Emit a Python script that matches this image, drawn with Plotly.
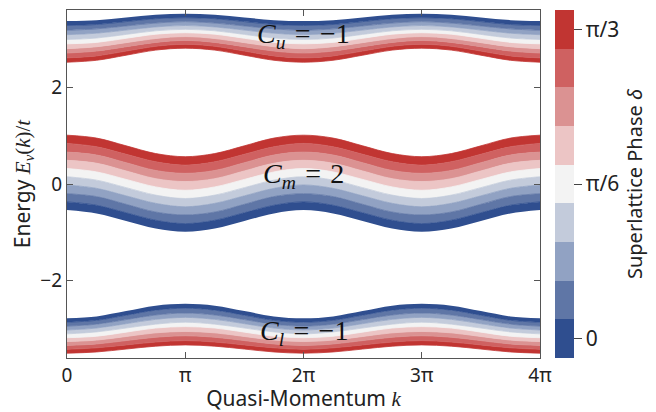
import math
import plotly.graph_objects as go

PI = math.pi

# k positions (one half period) where the stripe boundaries were read
k_read = [0, PI / 4, PI / 2, 3 * PI / 4, PI]

# Stripe boundaries (energy / t) read at k = 0, π/4, π/2, 3π/4, π
# index 0 = blue edge (δ = 0 side), index 9 = red edge (δ = π/3 side)
upper_bounds = [
    [3.37, 3.39, 3.445, 3.50, 3.52],
    [3.28, 3.30, 3.36, 3.42, 3.44],
    [3.18, 3.21, 3.27, 3.33, 3.36],
    [3.09, 3.12, 3.185, 3.25, 3.28],
    [2.99, 3.02, 3.095, 3.17, 3.20],
    [2.90, 2.93, 3.015, 3.10, 3.13],
    [2.80, 2.84, 2.925, 3.01, 3.05],
    [2.71, 2.75, 2.84, 2.93, 2.97],
    [2.61, 2.65, 2.75, 2.85, 2.89],
    [2.52, 2.56, 2.665, 2.77, 2.81],
]
middle_bounds = [
    [-0.54, -0.61, -0.765, -0.92, -0.99],
    [-0.37, -0.44, -0.595, -0.75, -0.82],
    [-0.20, -0.26, -0.42, -0.58, -0.64],
    [-0.02, -0.09, -0.245, -0.40, -0.47],
    [0.15, 0.08, -0.075, -0.23, -0.30],
    [0.32, 0.25, 0.095, -0.06, -0.13],
    [0.49, 0.43, 0.27, 0.11, 0.05],
    [0.66, 0.60, 0.44, 0.28, 0.22],
    [0.84, 0.77, 0.615, 0.46, 0.39],
    [1.01, 0.95, 0.79, 0.63, 0.565],
]
lower_bounds = [
    [-2.78, -2.74, -2.63, -2.52, -2.48],
    [-2.86, -2.82, -2.715, -2.61, -2.57],
    [-2.94, -2.90, -2.805, -2.71, -2.67],
    [-3.02, -2.98, -2.89, -2.80, -2.76],
    [-3.10, -3.06, -2.98, -2.90, -2.86],
    [-3.18, -3.15, -3.065, -2.98, -2.95],
    [-3.26, -3.23, -3.155, -3.08, -3.05],
    [-3.34, -3.31, -3.24, -3.17, -3.14],
    [-3.42, -3.39, -3.33, -3.27, -3.24],
    [-3.50, -3.475, -3.415, -3.355, -3.33],
]

# superlattice phases (colour bins) and their colours
delta_values = [i * PI / 24 for i in range(9)]
delta_colors = ["#2f4e8f", "#5f76a6", "#91a2c3", "#c3cbdb", "#f3f3f3",
                "#ecc5c5", "#db9292", "#cf6161", "#c13532"]

x_tickvals = [0, PI, 2 * PI, 3 * PI, 4 * PI]
x_ticktext = ["0", "π", "2π", "3π", "4π"]
y_tickvals = [-2, 0, 2]
y_ticktext = ["\u22122", "0", "2"]
cb_tickvals = [0, PI / 6, PI / 3]
cb_ticktext = ["0", "π/6", "π/3"]

chern_labels = [
    ("<i>C</i><sub><i>u</i></sub>\u200a = \u200a\u22121", 3.08),
    ("<i>C</i><sub><i>m</i></sub>\u200a = \u200a2", 0.17),
    ("<i>C</i><sub><i>l</i></sub>\u200a = \u200a\u22121", -3.08),
]

# full k grid 0..4π (the bands are periodic with 2π and symmetric about π)
k_full = [i * PI / 4 for i in range(17)]


def unfold(half):
    period = list(half) + list(half[-2::-1])
    return period + period[1:]


fig = go.Figure()
for bounds in (upper_bounds, middle_bounds, lower_bounds):
    fig.add_trace(go.Scatter(x=k_full, y=unfold(bounds[0]), mode="lines",
                             line=dict(width=0, shape="spline", color=delta_colors[0]),
                             hoverinfo="skip", showlegend=False))
    for i in range(9):
        fig.add_trace(go.Scatter(x=k_full, y=unfold(bounds[i + 1]), mode="lines",
                                 fill="tonexty", fillcolor=delta_colors[i],
                                 line=dict(width=0.8, shape="spline", color=delta_colors[i]),
                                 hoverinfo="skip", showlegend=False))

# colour bar
n = len(delta_colors)
cscale = []
for i, c in enumerate(delta_colors):
    cscale.append([i / n, c])
    cscale.append([(i + 1) / n, c])
step = delta_values[1] - delta_values[0]
fig.add_trace(go.Scatter(
    x=[None], y=[None], mode="markers", showlegend=False,
    marker=dict(color=[delta_values[0]], colorscale=cscale,
                cmin=delta_values[0] - step / 2, cmax=delta_values[-1] + step / 2,
                showscale=True,
                colorbar=dict(x=1.0317, xanchor="left", xpad=0, y=0.5, yanchor="middle",
                              len=1.0, lenmode="fraction", ypad=0, thickness=19,
                              outlinewidth=0, tickvals=cb_tickvals, ticktext=cb_ticktext,
                              ticks="outside", ticklen=8, tickcolor="#444", tickwidth=1,
                              tickfont=dict(family="Noto Sans", size=21, color="#222"),
                              title=dict(text="Superlattice Phase <i>δ</i>", side="right",
                                         font=dict(family="Noto Sans", size=20, color="#222"))))))

serif = "Liberation Serif"
for text, yv in chern_labels:
    fig.add_annotation(x=2 * PI, y=yv, text=text, showarrow=False,
                       font=dict(family=serif, size=28, color="#111"),
                       xanchor="center", yanchor="middle")

axis_common = dict(showline=True, linecolor="#555", linewidth=1.3, mirror="ticks",
                   ticks="inside", ticklen=6, tickwidth=1.3, tickcolor="#555",
                   showgrid=False, zeroline=False, automargin=False,
                   tickfont=dict(family="Noto Sans", size=19, color="#222"))

math_style = "font-family:Liberation Serif"

# the page adds an 8 px body margin, so the figure is 648 x 404
fig.update_layout(
    width=648, height=404,
    margin=dict(l=59, r=116, t=2, b=54),
    paper_bgcolor="white", plot_bgcolor="white",
    xaxis=dict(range=[0, 4 * PI], tickvals=x_tickvals, ticktext=x_ticktext,
               title=dict(text=f"Quasi-Momentum <span style='{math_style}'><i>k</i></span>",
                          font=dict(family="Noto Sans", size=21, color="#222"), standoff=7),
               **axis_common),
    yaxis=dict(range=[-3.6, 3.6], tickvals=y_tickvals, ticktext=y_ticktext,
               title=dict(text=f"Energy <span style='{math_style}'><i>E</i><sub><i>ν</i></sub>(<i>k</i>)/<i>t</i></span>",
                          font=dict(family="Noto Sans", size=21, color="#222"), standoff=9),
               **axis_common),
)

fig.write_html("out.html")
